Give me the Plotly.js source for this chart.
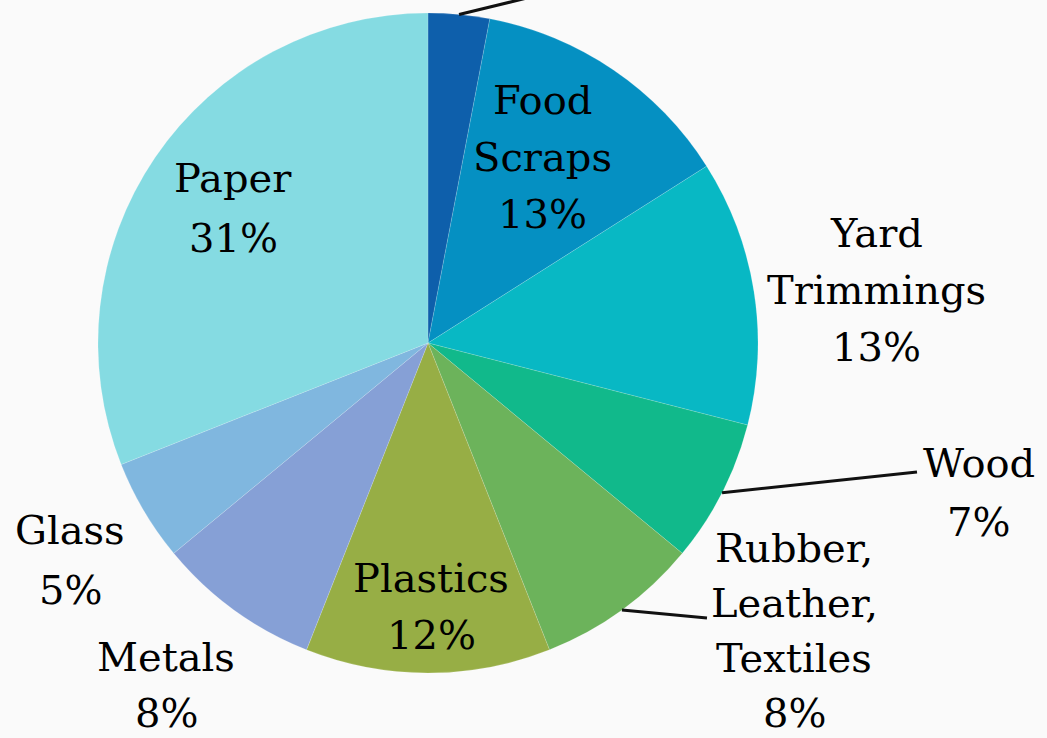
<!DOCTYPE html>
<html>
<head>
<meta charset="utf-8">
<script src="https://cdn.plot.ly/plotly-3.0.1.min.js"></script>
<style>
  html, body { margin: 0; padding: 0; background: #fafafa; }
  #chart { width: 1047px; height: 738px; }
</style>
</head>
<body>
<div id="chart"></div>
<script>
// ---- data ----
const categories = ["Other", "Food Scraps", "Yard Trimmings", "Wood", "Rubber, Leather, Textiles", "Plastics", "Metals", "Glass", "Paper"];
const labelLines = [["Other"], ["Food", "Scraps"], ["Yard", "Trimmings"], ["Wood"], ["Rubber,", "Leather,", "Textiles"], ["Plastics"], ["Metals"], ["Glass"], ["Paper"]];
const percents = [3, 13, 13, 7, 8, 12, 8, 5, 31];
const colors = ["#0e5fab", "#0590c2", "#08b8c4", "#11b98b", "#6cb35b", "#97ae45", "#86a0d6", "#80b7df", "#85dbe2"];

// ---- layout helpers (pixel positions of label blocks) ----
const W = 1047, H = 738;
const cx = 428, cy = 343, R = 330;
const labelPos = [null, [542, 100], [876, 233], [979, 463], [794, 548], [431, 578], [166, 657], [70, 530], [233, 178]];
const lineGaps = [57, 57, 57, 59, 55, 57, 56, 60, 60];
const leaders = [[0, 560, -10], [3, 917, 472], [4, 707, 618]]; // slice index, end x, end y

const px = x => x / W;
const py = y => 1 - y / H;

const annotations = [];
labelPos.forEach((p, i) => {
  if (!p) return;
  const lines = labelLines[i].concat([percents[i] + "%"]);
  lines.forEach((t, k) => {
    annotations.push({
      xref: "paper", yref: "paper",
      x: px(p[0]), y: py(p[1] + k * lineGaps[i]),
      xanchor: "center", yanchor: "middle",
      text: t, showarrow: false,
      font: {family: "DejaVu Serif, serif", size: 40, color: "#000000"}
    });
  });
});

// leader lines start at the slice's mid-angle on the rim
const total = percents.reduce((a, b) => a + b, 0);
const cum = [];
percents.reduce((a, v, i) => { cum[i] = a + v / 2; return a + v; }, 0);
const shapes = leaders.map(([i, ex, ey]) => {
  const ang = cum[i] / total * 2 * Math.PI;
  const sx = cx + Math.sin(ang) * R, sy = cy - Math.cos(ang) * R;
  return {type: "line", xref: "paper", yref: "paper",
    x0: px(sx), y0: py(sy), x1: px(ex), y1: py(ey),
    line: {color: "#111111", width: 3}};
});

const trace = {
  type: "pie",
  labels: categories,
  values: percents,
  sort: false,
  direction: "clockwise",
  rotation: 0,
  marker: {colors: colors, line: {color: "rgba(255,255,255,0.25)", width: 0.6}},
  textinfo: "none",
  hoverinfo: "label+percent",
  showlegend: false,
  domain: {x: [px(cx - R), px(cx + R)], y: [py(cy + R), py(cy - R)]}
};

Plotly.newPlot("chart", [trace], {
  width: W, height: H,
  margin: {l: 0, r: 0, t: 0, b: 0},
  paper_bgcolor: "#fafafa",
  plot_bgcolor: "#fafafa",
  showlegend: false,
  annotations: annotations,
  shapes: shapes
}, {displayModeBar: false, staticPlot: true});
</script>
</body>
</html>
